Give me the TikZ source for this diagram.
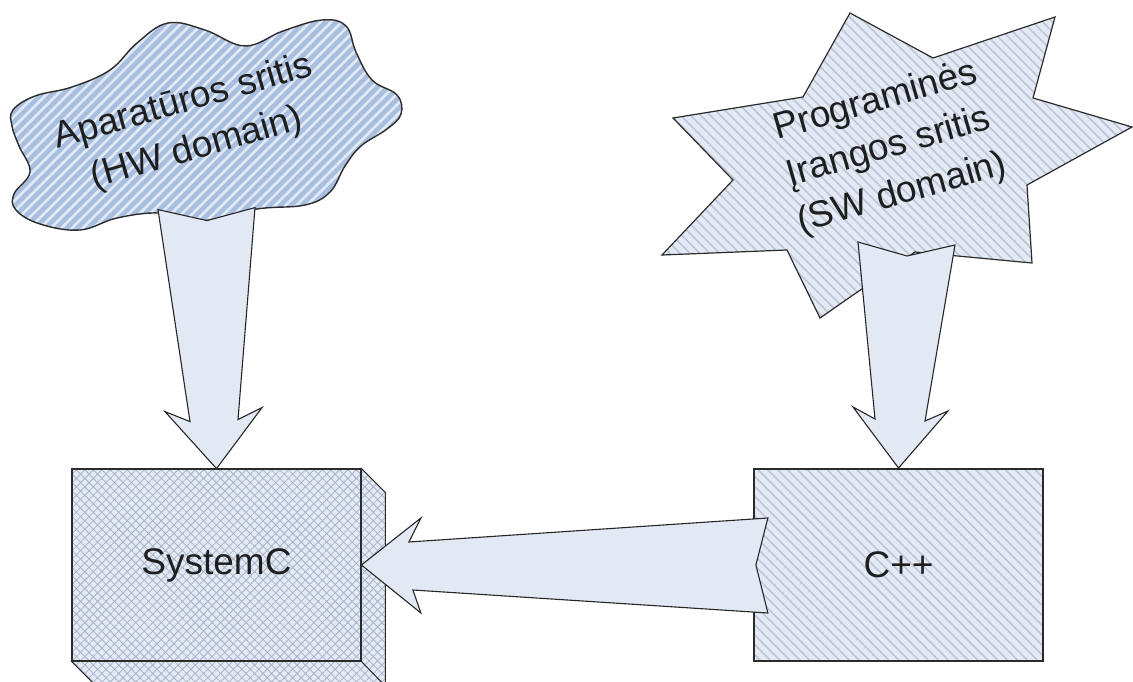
\documentclass[tikz,border=0pt]{standalone}
\usepackage{fontspec}
\setmainfont{Liberation Sans}
\usetikzlibrary{patterns.meta,calc}

\pgfdeclarelayer{background}
\pgfsetlayers{background,main}

\definecolor{txt}{HTML}{1E1E1E}
\definecolor{edge}{HTML}{2B2B2B}
\definecolor{cloudfill}{HTML}{A9BFE0}
\definecolor{cloudline}{HTML}{E2EAF5}
\definecolor{palefill}{HTML}{E3EAF6}
\definecolor{hatchline}{HTML}{BEC6D5}
\definecolor{crossline}{HTML}{A8B3C6}
\definecolor{arrowfill}{HTML}{E3E9F4}

\tikzset{
  lbl/.style={font=\fontsize{37}{48}\selectfont, text=txt, align=center},
  cloudshape/.style={draw=edge, line width=1.4pt,
    preaction={fill=cloudfill},
    pattern={Lines[angle=45,distance=7.5pt,line width=2.6pt]}, pattern color=cloudline},
  starshape/.style={draw=edge, line width=1.2pt, line join=miter,
    preaction={fill=palefill},
    pattern={Lines[angle=-45,distance=7pt,line width=1.6pt]}, pattern color=hatchline},
  hatchbox/.style={draw=edge, line width=2pt, inner sep=0pt,
    minimum width=289pt, minimum height=192pt,
    preaction={fill=palefill},
    pattern={Lines[angle=-45,distance=7pt,line width=1.6pt]}, pattern color=hatchline},
  crossface/.style={preaction={fill=palefill},
    pattern={Hatch[angle=45,distance=6pt,line width=0.8pt]}, pattern color=crossline},
  frontface/.style={draw=edge, line width=2.4pt, inner sep=0pt,
    minimum width=289pt, minimum height=192pt, crossface},
  sideface/.style={draw=edge, line width=1pt, crossface},
  blockarrow/.style={draw=black!85, line width=1.1pt, fill=arrowfill, line join=miter},
}

\begin{document}
\begin{tikzpicture}[x=1pt, y=-1pt]
\useasboundingbox (0,0) rectangle (1133,682);

% hardware domain cloud
\draw[cloudshape] plot[smooth cycle, tension=0.65] coordinates {
  (13,110) (35,96) (72,87) (110,70) (137,43) (168,23) (205,30) (245,46)
  (283,31) (322,20) (346,26) (356,52) (372,80) (397,95) (401,114)
  (387,129) (361,146) (345,166) (330,192) (305,205) (257,209) (200,221)
  (160,213) (117,218) (80,230) (40,224) (16,210) (14,194) (30,172)
  (19,146) (12,126)};
\node[lbl, rotate=16] (hw) at (190,126) {Aparatūros sritis\\(HW domain)};

% software domain star
\draw[starshape] (850,13) -- (933,58) -- (1055,17) -- (1033,98) -- (1132,127)
  -- (1027,185) -- (1032,263) -- (915,252) -- (820,318) -- (787,250)
  -- (662,255) -- (733,180) -- (673,118) -- (803,97) -- cycle;
\node[lbl, rotate=16] (sw) at (889,148) {Programinės\\Įrangos sritis\\(SW domain)};

% SystemC as a 3-D box: front face, with side and bottom faces behind it
\node[frontface] (sysc) at (216.5,565) {};
\begin{pgfonlayer}{background}
  \draw[sideface] (sysc.north east) -- ++(24,24) -- ++(0,216) -- (sysc.south east) -- cycle;
  \draw[sideface] (sysc.south west) -- ++(24,24) -- ++(289,0) -- (sysc.south east) -- cycle;
\end{pgfonlayer}
\node[lbl] (sysclbl) at (sysc.center) {SystemC};

% C++ box
\node[hatchbox] (cpp) at (898.5,565) {};
\node[lbl] (cpplbl) at (cpp.center) {C++};

% hardware domain -> SystemC
\begin{scope}[shift={(sysc.north)}]
  \coordinate (hwtip) at (0,0);
  \draw[blockarrow] (hwtip) -- (45.5,-61) -- (21.5,-49) -- (38.5,-261)
    -- (-9.5,-248) -- (-58.5,-259) -- (-26.5,-47) -- (-51.5,-57) -- cycle;
\end{scope}

% software domain -> C++
\begin{scope}[shift={(cpp.north)}]
  \coordinate (swtip) at (0,0);
  \draw[blockarrow] (swtip) -- (49.5,-57) -- (26.5,-47) -- (56.5,-223)
    -- (8.5,-212) -- (-40.5,-226) -- (-23.5,-49) -- (-45.5,-61) -- cycle;
\end{scope}

% C++ -> SystemC
\begin{scope}[shift={(sysc.east)}]
  \coordinate (ctip) at (0,0);
  \draw[blockarrow] (ctip) -- (59.5,-47) -- (47.5,-23) -- (406.5,-47)
    -- (394.5,0) -- (406.5,48) -- (51.5,25) -- (59.5,48) -- cycle;
\end{scope}
\end{tikzpicture}
\end{document}
